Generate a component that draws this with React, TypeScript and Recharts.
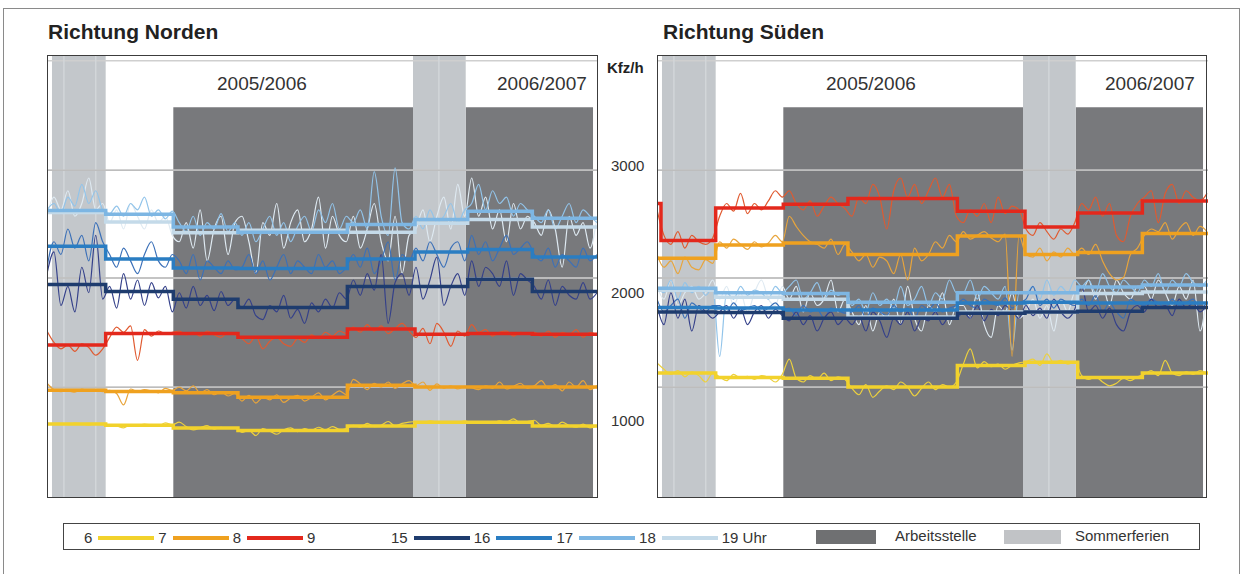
import React from "react";
import {
  LineChart,
  Line,
  XAxis,
  YAxis,
  ReferenceArea,
  ReferenceLine,
} from "recharts";

// x axis: days since start of the record, one noisy sample per week
const WEEK_DAYS = Array.from({ length: 80 }, (_, i) => i * 7);
const END_DAY = 554;
const STEP_STARTS = [0, 59, 127, 192, 302, 370, 423, 488];
const SUED_RED_STARTS = [0, 4, 59, 127, 192, 302, 370, 423, 488];

const SUMMER = [
  [5, 59],
  [368, 421],
];
const SUMMER_SEAMS = [17, 49, 394];
const WORKS = [
  [127, 368],
  [421, 549],
];
const WORKS_TOP = 3455;
const GRID_VALUES = [3820, 2960, 2115, 1258];
const Y_TICKS = [1000, 2000, 3000];
const PERIODS = ["2005/2006", "2006/2007"];

// ---- Richtung Norden ----
const N_6_7_LEVELS = [970, 960, 940, 920, 955, 985, 985, 955];
const N_7_8_LEVELS = [1235, 1225, 1215, 1180, 1275, 1260, 1260, 1260];
const N_8_9_LEVELS = [1590, 1680, 1680, 1650, 1715, 1675, 1680, 1675];
const N_15_16_LEVELS = [2065, 2010, 1950, 1885, 2050, 2050, 2105, 2010];
const N_16_17_LEVELS = [2365, 2265, 2195, 2190, 2265, 2320, 2340, 2280];
const N_17_18_LEVELS = [2645, 2615, 2515, 2475, 2535, 2575, 2640, 2585];
const N_18_19_LEVELS = [2630, 2555, 2470, 2490, 2475, 2545, 2575, 2515];

const N_6_7 = [
  975, 968, 972, 965, 978, 970, 962, 975, 968,
  960, 955, 940, 965, 958, 970, 962, 955, 980, 965,
  985, 950, 925, 940, 958, 930, 945, 935, 940,
  905, 920, 880, 935, 915, 890, 925, 940, 910, 935, 920, 945, 925, 950, 930, 935,
  960, 945, 975, 950, 960, 990, 955, 975, 985,
  990, 980, 995, 985, 975, 990, 985, 995,
  980, 990, 985, 975, 995, 985, 1010, 980, 990,
  1000, 960, 975, 950, 985, 960, 945, 970, 940, 955,
];
const N_7_8 = [
  1290, 1240, 1225, 1230, 1220, 1245, 1230, 1240, 1225,
  1235, 1210, 1120, 1245, 1225, 1240, 1230, 1215, 1250, 1235,
  1260, 1230, 1270, 1215, 1240, 1200, 1225, 1190, 1210,
  1150, 1195, 1135, 1180, 1160, 1200, 1140, 1175, 1195, 1150, 1180, 1215, 1160, 1195, 1230, 1200,
  1320, 1285, 1240, 1290, 1260, 1300, 1250, 1285, 1310,
  1270, 1300, 1235, 1285, 1250, 1270, 1245, 1265,
  1255, 1240, 1270, 1250, 1300, 1245, 1265, 1290, 1250,
  1270, 1310, 1250, 1280, 1230, 1300, 1260, 1310, 1240, 1270,
];
const N_8_9 = [
  1700, 1610, 1560, 1590, 1540, 1600, 1570, 1510, 1560,
  1650, 1730, 1690, 1740, 1470, 1710, 1660, 1700, 1680, 1690,
  1700, 1670, 1690, 1660, 1700, 1670, 1650, 1690, 1670,
  1640, 1600, 1660, 1560, 1620, 1650, 1600, 1580, 1640, 1610, 1670, 1640, 1690, 1660, 1700, 1680,
  1730, 1690, 1750, 1700, 1740, 1680, 1720, 1760, 1700,
  1650, 1720, 1600, 1760, 1690, 1580, 1700, 1660,
  1750, 1690, 1710, 1660, 1690, 1700, 1660, 1690, 1680,
  1690, 1660, 1700, 1650, 1690, 1670, 1710, 1650, 1690, 1670,
];
const N_15_16 = [
  2150, 2320, 1900, 2050, 1850, 2200, 2000, 2450, 1950,
  2050, 1880, 2150, 1950, 2100, 1900, 2080, 1960, 2050, 1850,
  2000, 1880, 2050, 1900, 1980, 1860, 2010, 1900, 1950,
  1880, 1950, 1820, 1790, 1900, 1850, 1980, 1800, 1870, 1760, 1920, 1850, 1950, 1880, 2000, 1950,
  2100, 1980, 2150, 2020, 2300, 1760, 2080, 2150, 1980,
  2200, 1950, 2100, 2280, 1900, 2050, 2150, 1980,
  2250, 2050, 2200, 2150, 2050, 2250, 1980, 2150, 2100,
  2050, 1950, 2100, 1900, 2050, 1980, 1950, 2080, 1950, 2000,
];
const N_16_17 = [
  2200, 2400, 2300, 2500, 2350, 2450, 2250, 2550, 2400,
  2300, 2200, 2350, 2250, 2150, 2300, 2400, 2250, 2200, 2300,
  2250, 2150, 2300, 2100, 2250, 2200, 2150, 2250, 2180,
  2200, 2300, 2150, 2250, 2100, 2200, 2300, 2150, 2250, 2200, 2150, 2300, 2200, 2250, 2150, 2200,
  2300, 2200, 2350, 2150, 2250, 2400, 2100, 2300, 2250,
  2350, 2250, 2400, 2300, 2200, 2350, 2400, 2250,
  2450, 2300, 2400, 2250, 2350, 2450, 2300, 2350, 2400,
  2300, 2250, 2350, 2200, 2300, 2250, 2200, 2350, 2250, 2300,
];
const N_17_18 = [
  2650, 2700, 2620, 2750, 2680, 2850, 2700, 2800, 2650,
  2620, 2680, 2600, 2700, 2650, 2750, 2600, 2650, 2580, 2640,
  2550, 2480, 2600, 2450, 2550, 2500, 2620, 2480, 2550,
  2450, 2550, 2400, 2500, 2600, 2450, 2550, 2400, 2520, 2600, 2480, 2650, 2550, 2700, 2500, 2600,
  2550, 2650, 2500, 2950, 2600, 2450, 2980, 2550, 2500,
  2600, 2500, 2650, 2550, 2600, 2700, 2550, 2650,
  2700, 2850, 2650, 2800, 2700, 2750, 2600, 2700, 2650,
  2600, 2550, 2650, 2500, 2600, 2700, 2550, 2650, 2600, 2550,
];
const N_18_19 = [
  2600, 2750, 2650, 2800, 2600, 2700, 2900, 2650, 2700,
  2550, 2650, 2500, 2700, 2600, 2500, 2650, 2550, 2600, 2450,
  2400, 2550, 2350, 2650, 2250, 2500, 2600, 2300, 2550,
  2600, 2400, 2150, 2550, 2450, 2700, 2350, 2550, 2650, 2400, 2500, 2750, 2350, 2600, 2450, 2400,
  2600, 2350, 2500, 2700, 2400, 2250, 2600, 2150, 2450,
  2500, 2650, 2400, 2600, 2750, 2500, 2850, 2600,
  2900, 2600, 2750, 2500, 2650, 2400, 2700, 2500, 2600,
  2550, 2450, 2650, 2500, 2200, 2600, 2450, 2550, 2350, 2600,
];

// ---- Richtung Süden ----
const S_6_7_LEVELS = [1370, 1335, 1330, 1260, 1430, 1455, 1335, 1370];
const S_7_8_LEVELS = [2270, 2375, 2390, 2300, 2445, 2300, 2315, 2465];
const S_8_9_LEVELS = [2700, 2410, 2665, 2695, 2740, 2640, 2515, 2625, 2720];
const S_15_16_LEVELS = [1850, 1845, 1800, 1800, 1840, 1850, 1855, 1885];
const S_16_17_LEVELS = [1885, 1880, 1865, 1865, 1920, 1925, 1920, 1920];
const S_17_18_LEVELS = [2035, 2000, 1995, 1925, 2000, 2000, 2045, 2060];
const S_18_19_LEVELS = [2020, 1965, 1950, 1810, 1850, 1850, 1995, 2005];

const S_6_7 = [
  1450, 1400, 1360, 1390, 1340, 1380, 1350, 1300, 1370,
  1340, 1310, 1360, 1330, 1345, 1320, 1350, 1335, 1300, 1360,
  1480, 1330, 1300, 1350, 1320, 1370, 1310, 1340, 1320,
  1250, 1200, 1280, 1180, 1230, 1270, 1240, 1300, 1260, 1190, 1250, 1300, 1240, 1280, 1260, 1300,
  1440, 1560, 1410, 1460, 1420, 1440, 1400, 1430, 1450,
  1460, 1480, 1430, 1520, 1450, 1470, 1440, 1460,
  1350, 1320, 1340, 1300, 1270, 1290, 1330, 1310, 1340,
  1360, 1390, 1350, 1470, 1370, 1350, 1380, 1360, 1390, 1370,
];
const S_7_8 = [
  2300, 2200, 2250, 2150, 2280, 2200, 2180, 2260, 2230,
  2400, 2350, 2420, 2380, 2340, 2400, 2360, 2390, 2450, 2400,
  2600, 2520, 2450, 2400, 2380, 2350, 2420, 2300, 2380,
  2320, 2250, 2300, 2200, 2280, 2250, 2150, 2300, 2100, 2350, 2250, 2300, 2400, 2350, 2450, 2400,
  2480, 2420, 2450, 2480, 2430, 2400, 2460, 1500, 2450,
  2300, 2280, 2350, 2250, 2320, 2280, 2350, 2300,
  2350, 2300, 2380, 2250, 2150, 2100, 2120, 2300, 2350,
  2450, 2500, 2480, 2550, 2420, 2500, 2550, 2450, 2520, 2480,
];
const S_8_9 = [
  2650, 2450, 2380, 2480, 2350, 2450, 2400, 2380, 2430,
  2600, 2700, 2640, 2780, 2620, 2700, 2650, 2720, 2800, 2750,
  2800, 2700, 2650, 2720, 2600, 2680, 2750, 2700, 2660,
  2600, 2750, 2700, 2850, 2750, 2500, 2800, 2900, 2750, 2850, 2700, 2800, 2900, 2750, 2850, 2600,
  2550, 2650, 2600, 2700, 2550, 2750, 2620, 2680, 2650,
  2500, 2450, 2550, 2480, 2420, 2500, 2460, 2550,
  2700, 2650, 2750, 2600, 2700, 2450, 2400, 2600, 2700,
  2750, 2800, 2550, 2780, 2850, 2700, 2800, 2750, 2720, 2780,
];
const S_15_16 = [
  1900, 1750, 2000, 1800, 1950, 1700, 1900, 1850, 1800,
  1850, 1900, 1800, 1880, 1750, 1850, 1900, 1800, 1870, 1820,
  1780, 1850, 1750, 1820, 1700, 1800, 1850, 1750, 1800,
  1750, 1820, 1700, 1850, 1780, 1650, 1800, 1750, 1850, 1700, 1800, 1780, 1850, 1750, 1820, 1800,
  1850, 1800, 1900, 1780, 1870, 1820, 1900, 1850, 1800,
  1900, 1820, 1880, 1800, 1950, 1850, 1800, 1870,
  2050, 1850, 1900, 1800, 1880, 1750, 1700, 1850, 1900,
  1850, 1950, 1880, 1900, 1820, 1950, 1880, 1920, 1850, 1900,
];
const S_16_17 = [
  1950, 1850, 1900, 1950, 1800, 1920, 1880, 1850, 1900,
  1900, 1850, 1920, 1860, 1880, 1900, 1850, 1880, 1920, 1870,
  1880, 1820, 1900, 1850, 1870, 1800, 1880, 1860, 1840,
  1850, 1900, 1800, 1880, 1850, 1820, 1900, 1850, 1880, 1800, 1900, 1870, 1920, 1850, 1880, 1900,
  1950, 1900, 1880, 1950, 1920, 1900, 1960, 1880, 1920,
  1950, 2050, 1900, 1950, 1880, 1950, 1920, 1900,
  1950, 1900, 1980, 1850, 1920, 1850, 1800, 1950, 1920,
  1900, 1950, 1920, 1880, 1950, 1900, 1920, 1950, 1880, 1920,
];
const S_17_18 = [
  2050, 2000, 2100, 1950, 2080, 2000, 2050, 1980, 2040,
  1500, 2000, 1950, 2050, 1980, 2020, 2000, 1950, 2050, 2000,
  2050, 2100, 1950, 2000, 2080, 1950, 2020, 1980, 2000,
  1900, 1950, 1850, 2000, 1900, 1950, 1880, 2050, 1900, 1950, 2050, 1900, 2000, 1950, 2100, 2000,
  2000, 2100, 1950, 2050, 2000, 1950, 2050, 1550, 2000,
  2000, 2050, 1950, 2100, 1980, 2050, 2000, 2100,
  2050, 2100, 2000, 2150, 2050, 2000, 2100, 2050, 2000,
  2100, 2050, 2150, 2000, 2100, 2050, 2150, 2080, 2050, 2100,
];
const S_18_19 = [
  2050, 1950, 2100, 1900, 2000, 2050, 1950, 2000, 2100,
  1950, 2050, 1900, 2000, 1850, 2000, 2100, 1950, 1900, 2050,
  1950, 2050, 1850, 2000, 1900, 1950, 2100, 1850, 1950,
  1850, 1750, 1900, 1700, 1850, 1800, 1950, 1750, 2050, 1800, 1700, 1900, 1850, 2000, 1750, 1900,
  1900, 1800, 2000, 1750, 1650, 1900, 1850, 2000, 1800,
  1850, 1950, 1800, 1900, 1700, 1950, 1850, 2000,
  2000, 2100, 1950, 2050, 1900, 2100, 2000, 1950, 2050,
  2050, 1950, 2100, 2000, 1900, 2050, 1950, 2100, 1700, 2000,
];

const COLORS = {
  h6: "#f2d22c",
  h7: "#efa11f",
  h8: "#e3281c",
  h15: "#1e3c6e",
  h16: "#2a7dc2",
  h17: "#7db6e3",
  h18: "#c4dae9",
};
const THIN = {
  h6: "#ecd03e",
  h7: "#e8a53c",
  h8: "#e05a30",
  h15: "#34408a",
  h16: "#3b70b8",
  h17: "#92c4ea",
  h18: "#dfeaf2",
};

const FONT = '"Liberation Sans", Arial, sans-serif';

const toNoise = (vals: number[]) => vals.map((v, i) => ({ x: WEEK_DAYS[i], v }));
const toSteps = (starts: number[], levels: number[]) => [
  ...starts.map((x, i) => ({ x, v: levels[i] })),
  { x: END_DAY, v: levels[levels.length - 1] },
];

type Series = { key: string; noise: number[]; levels: number[]; starts: number[] };

const NORDEN: Series[] = [
  { key: "h18", noise: N_18_19, levels: N_18_19_LEVELS, starts: STEP_STARTS },
  { key: "h17", noise: N_17_18, levels: N_17_18_LEVELS, starts: STEP_STARTS },
  { key: "h16", noise: N_16_17, levels: N_16_17_LEVELS, starts: STEP_STARTS },
  { key: "h15", noise: N_15_16, levels: N_15_16_LEVELS, starts: STEP_STARTS },
  { key: "h8", noise: N_8_9, levels: N_8_9_LEVELS, starts: STEP_STARTS },
  { key: "h7", noise: N_7_8, levels: N_7_8_LEVELS, starts: STEP_STARTS },
  { key: "h6", noise: N_6_7, levels: N_6_7_LEVELS, starts: STEP_STARTS },
];
const SUEDEN: Series[] = [
  { key: "h18", noise: S_18_19, levels: S_18_19_LEVELS, starts: STEP_STARTS },
  { key: "h17", noise: S_17_18, levels: S_17_18_LEVELS, starts: STEP_STARTS },
  { key: "h16", noise: S_16_17, levels: S_16_17_LEVELS, starts: STEP_STARTS },
  { key: "h15", noise: S_15_16, levels: S_15_16_LEVELS, starts: STEP_STARTS },
  { key: "h8", noise: S_8_9, levels: S_8_9_LEVELS, starts: SUED_RED_STARTS },
  { key: "h7", noise: S_7_8, levels: S_7_8_LEVELS, starts: STEP_STARTS },
  { key: "h6", noise: S_6_7, levels: S_6_7_LEVELS, starts: STEP_STARTS },
];

const PLOT_W = 551;
const PLOT_H = 443;

const Panel = ({ series, withAxis }: { series: Series[]; withAxis: boolean }) => (
  <LineChart
    width={PLOT_W + (withAxis ? 60 : 0)}
    height={PLOT_H}
    margin={{ top: 0, right: 0, bottom: 0, left: 0 }}
  >
    <XAxis type="number" dataKey="x" domain={[0, END_DAY]} hide allowDataOverflow />
    <YAxis
      type="number"
      domain={[390, 3865]}
      allowDataOverflow
      hide={!withAxis}
      orientation="right"
      width={60}
      ticks={Y_TICKS}
      axisLine={false}
      tickLine={false}
      tickMargin={7}
      tick={{ fill: "#333", fontSize: 15, fontFamily: FONT }}
    />
    {GRID_VALUES.map((g) => (
      <ReferenceLine key={"g" + g} y={g} stroke="#cfcfcf" strokeWidth={1.5} />
    ))}
    {WORKS.map(([a, b]) => (
      <ReferenceArea key={"w" + a} x1={a} x2={b} y1={390} y2={WORKS_TOP} fill="#78797c" fillOpacity={1} stroke="none" />
    ))}
    {SUMMER.map(([a, b]) => (
      <ReferenceArea key={"s" + a} x1={a} x2={b} fill="#c3c7cb" fillOpacity={1} stroke="none" />
    ))}
    {SUMMER_SEAMS.map((d) => (
      <ReferenceLine key={"m" + d} x={d} stroke="#d2d6d9" strokeWidth={1.5} />
    ))}
    <ReferenceLine y={GRID_VALUES[1]} stroke="#bdbdbd" strokeWidth={1.5} />
    <ReferenceLine y={GRID_VALUES[2]} stroke="#bdbdbd" strokeWidth={1.5} />
    <ReferenceLine y={GRID_VALUES[3]} stroke="#bdbdbd" strokeWidth={1.5} />
    {series.map((s) => (
      <Line
        key={"n" + s.key}
        data={toNoise(s.noise)}
        dataKey="v"
        type="monotone"
        stroke={THIN[s.key as keyof typeof THIN]}
        strokeWidth={1.2}
        dot={false}
        isAnimationActive={false}
      />
    ))}
    {series.map((s) => (
      <Line
        key={"t" + s.key}
        data={toSteps(s.starts, s.levels)}
        dataKey="v"
        type="stepAfter"
        stroke={COLORS[s.key as keyof typeof COLORS]}
        strokeWidth={3.5}
        dot={false}
        isAnimationActive={false}
      />
    ))}
  </LineChart>
);

const LEGEND_AM = ["6", "7", "8", "9"];
const LEGEND_AM_COLORS = [COLORS.h6, COLORS.h7, COLORS.h8];
const LEGEND_PM = ["15", "16", "17", "18", "19 Uhr"];
const LEGEND_PM_COLORS = [COLORS.h15, COLORS.h16, COLORS.h17, COLORS.h18];

const LegendRow = ({ labels, colors, left }: { labels: string[]; colors: string[]; left: number }) => (
  <div style={{ position: "absolute", left, top: 0, height: 27, display: "flex", alignItems: "center" }}>
    {labels.map((l, i) => (
      <React.Fragment key={l}>
        <span style={{ fontSize: 15, color: "#333" }}>{l}</span>
        {i < colors.length && (
          <span style={{ display: "inline-block", width: 56, height: 4, background: colors[i], margin: "0 4px 0 6px" }} />
        )}
      </React.Fragment>
    ))}
  </div>
);

const abs = (left: number, top: number, extra: React.CSSProperties = {}): React.CSSProperties => ({
  position: "absolute",
  left,
  top,
  ...extra,
});

export default function App() {
  return (
    <div style={{ position: "relative", width: 1246, height: 574, overflow: "hidden", background: "#fff", fontFamily: FONT }}>
      <style>{"body{margin:0}"}</style>
      <div style={abs(3, 8, { width: 1237, height: 600, border: "1px solid #8a8a8a", boxSizing: "border-box" })} />

      <div style={abs(48, 20, { fontSize: 21, fontWeight: "bold", color: "#222" })}>Richtung Norden</div>
      <div style={abs(663, 20, { fontSize: 21, fontWeight: "bold", color: "#222" })}>Richtung Süden</div>

      <div style={abs(47, 55)}>
        <Panel series={NORDEN} withAxis />
      </div>
      <div style={abs(657, 55)}>
        <Panel series={SUEDEN} withAxis={false} />
      </div>
      <div style={abs(47, 55, { width: PLOT_W, height: PLOT_H, border: "1.5px solid #3c3c3c", boxSizing: "border-box" })} />
      <div style={abs(657, 55, { width: PLOT_W - 1, height: PLOT_H, border: "1.5px solid #3c3c3c", boxSizing: "border-box" })} />

      <div style={abs(607, 59, { fontSize: 15, fontWeight: "bold", color: "#222" })}>Kfz/h</div>

      <div style={abs(217, 73, { fontSize: 19, color: "#333" })}>{PERIODS[0]}</div>
      <div style={abs(497, 73, { fontSize: 19, color: "#333" })}>{PERIODS[1]}</div>
      <div style={abs(826, 73, { fontSize: 19, color: "#333" })}>{PERIODS[0]}</div>
      <div style={abs(1105, 73, { fontSize: 19, color: "#333" })}>{PERIODS[1]}</div>

      <div style={abs(63, 523, { width: 1137, height: 27, border: "1.5px solid #444", boxSizing: "border-box" })}>
        <LegendRow labels={LEGEND_AM} colors={LEGEND_AM_COLORS} left={20} />
        <LegendRow labels={LEGEND_PM} colors={LEGEND_PM_COLORS} left={327} />
        <div style={abs(752, 6, { width: 60, height: 14, background: "#6f7072" })} />
        <div style={abs(831, 3, { fontSize: 15, color: "#333" })}>Arbeitsstelle</div>
        <div style={abs(940, 6, { width: 57, height: 14, background: "#c1c3c6" })} />
        <div style={abs(1011, 3, { fontSize: 15, color: "#333" })}>Sommerferien</div>
      </div>
    </div>
  );
}
